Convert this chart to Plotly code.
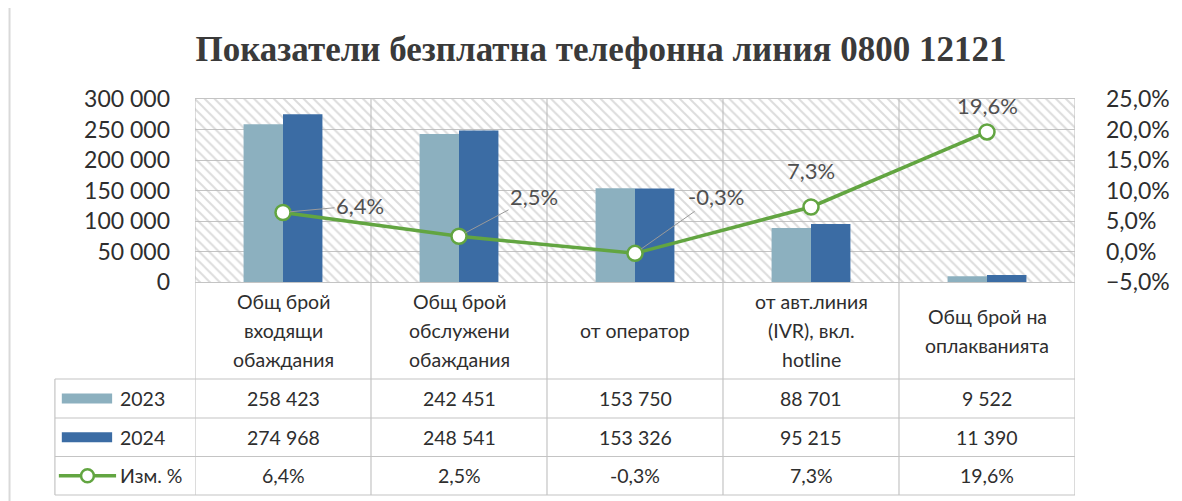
"""Combo chart: calls to the 0800 12121 free line, 2023 vs 2024, with data table."""

import plotly.graph_objects as go

# ---------------------------------------------------------------------------
# Data
# ---------------------------------------------------------------------------

categories = [
    "Общ брой<br>входящи<br>обаждания",
    "Общ брой<br>обслужени<br>обаждания",
    "от оператор",
    "от авт.линия<br>(IVR), вкл.<br>hotline",
    "Общ брой на<br>оплакванията",
]
calls_2023 = [258423, 242451, 153750, 88701, 9522]
calls_2024 = [274968, 248541, 153326, 95215, 11390]
change_pct = [0.064, 0.025, -0.003, 0.073, 0.196]

series_names = ["2023", "2024", "Изм. %"]

# ---------------------------------------------------------------------------
# Theme  (positions below are window pixels; the page body adds an 8px margin)
# ---------------------------------------------------------------------------

W, H = 1182, 501
BODY = 8
PLOT_L, PLOT_R, PLOT_T, PLOT_B = 195, 1087, 99, 282
ROW_LINES = [379, 418, 456.5, 495]
TABLE_LEFT = 53

Y_MAX = 300000
COLOR_2023 = "#8cb0bf"
COLOR_2024 = "#3b6ca4"
GREEN = "#62a541"
GRID = "#c4c4c4"
TEXT = "#2e2e2e"
LABEL_TEXT = "#505050"
FONT = "Lato, Carlito, sans-serif"


def px_x(px):
    return (px - PLOT_L) / (PLOT_R - PLOT_L)


def px_y(py):
    return (PLOT_B - py) / (PLOT_B - PLOT_T)


def fmt_int(v):
    return f"{v:,}".replace(",", " ")


def fmt_pct(v):
    return f"{v * 100:.1f}%".replace(".", ",")


fig = go.Figure()

# hatched plot background
fig.add_trace(go.Bar(
    x=categories, y=[Y_MAX] * len(categories), width=1,
    marker=dict(
        color="rgba(0,0,0,0)", line=dict(width=0),
        pattern=dict(shape="\\", fgcolor="#b9b9b9", bgcolor="rgba(0,0,0,0)",
                     size=7, solidity=0.28),
    ),
    hoverinfo="skip", showlegend=False,
))

fig.add_trace(go.Bar(
    x=categories, y=calls_2023, name=series_names[0],
    width=0.224, offset=-0.224, marker=dict(color=COLOR_2023, line=dict(width=0)),
))
fig.add_trace(go.Bar(
    x=categories, y=calls_2024, name=series_names[1],
    width=0.224, offset=0, marker=dict(color=COLOR_2024, line=dict(width=0)),
))
fig.add_trace(go.Scatter(
    x=categories, y=change_pct, name=series_names[2], yaxis="y2",
    mode="lines+markers",
    line=dict(color=GREEN, width=3.5),
    marker=dict(size=15, color="white", line=dict(color=GREEN, width=2.5)),
))

# ---------------------------------------------------------------------------
# Data labels for the line
# ---------------------------------------------------------------------------

label_offsets = [(77, -7), (75, -40), (81, -57), None, None]
label_lift = [0, 0, 0, 36, 26]
annotations = []
for i, (cat, val) in enumerate(zip(categories, change_pct)):
    off = label_offsets[i]
    if off:
        annotations.append(dict(
            x=cat, y=val, xref="x", yref="y2", text=fmt_pct(val),
            showarrow=True, ax=off[0], ay=off[1], arrowhead=0,
            arrowwidth=1, arrowcolor="#9a9a9a", standoff=7,
            font=dict(size=22, color=LABEL_TEXT, family=FONT),
        ))
    else:
        annotations.append(dict(
            x=cat, y=val, xref="x", yref="y2", text=fmt_pct(val),
            showarrow=False, yshift=label_lift[i],
            font=dict(size=22, color=LABEL_TEXT, family=FONT),
        ))

# ---------------------------------------------------------------------------
# Data table under the plot
# ---------------------------------------------------------------------------

header_mid = (PLOT_B + ROW_LINES[0]) / 2
line_step = 29
row_mids = [px_y((ROW_LINES[k] + ROW_LINES[k + 1]) / 2) for k in range(3)]

for cat in categories:
    lines = cat.split("<br>")
    first = header_mid - line_step * (len(lines) - 1) / 2
    for j, part in enumerate(lines):
        annotations.append(dict(
            x=cat, y=px_y(first + j * line_step), xref="x", yref="paper", text=part,
            showarrow=False, yanchor="middle",
            font=dict(size=19.5, color=TEXT, family=FONT),
        ))

table_rows = [
    [fmt_int(v) for v in calls_2023],
    [fmt_int(v) for v in calls_2024],
    [fmt_pct(v) for v in change_pct],
]
for r, row in enumerate(table_rows):
    annotations.append(dict(
        x=px_x(117), y=row_mids[r], xref="paper", yref="paper",
        text=series_names[r], showarrow=False, xanchor="left", yanchor="middle",
        font=dict(size=19.5, color=TEXT, family=FONT),
    ))
    for cat, txt in zip(categories, row):
        annotations.append(dict(
            x=cat, y=row_mids[r], xref="x", yref="paper", text=txt,
            showarrow=False, yanchor="middle",
            font=dict(size=19.5, color=TEXT, family=FONT),
        ))

shapes = []
# column dividers, running from the plot top through the table
for k in range(len(categories) + 1):
    shapes.append(dict(
        type="line", xref="x", yref="paper", x0=k - 0.5, x1=k - 0.5,
        y0=px_y(ROW_LINES[-1]), y1=1, line=dict(color=GRID, width=1.2), layer="below",
    ))
for yl in ROW_LINES:
    shapes.append(dict(
        type="line", xref="paper", yref="paper", x0=px_x(TABLE_LEFT), x1=1,
        y0=px_y(yl), y1=px_y(yl), line=dict(color=GRID, width=1.2), layer="below",
    ))
shapes.append(dict(
    type="line", xref="paper", yref="paper", x0=px_x(TABLE_LEFT), x1=px_x(TABLE_LEFT),
    y0=px_y(ROW_LINES[0]), y1=px_y(ROW_LINES[-1]), line=dict(color=GRID, width=1.2),
    layer="below",
))
# chart border on the far left
shapes.append(dict(
    type="line", xref="paper", yref="paper", x0=px_x(7), x1=px_x(7),
    y0=px_y(H), y1=px_y(BODY), line=dict(color="#d9d9d9", width=2), layer="below",
))

# legend keys inside the table
swatch_colors = [COLOR_2023, COLOR_2024]
for r, col in enumerate(swatch_colors):
    cy = (ROW_LINES[r] + ROW_LINES[r + 1]) / 2
    shapes.append(dict(
        type="rect", xref="paper", yref="paper",
        x0=px_x(60), x1=px_x(111), y0=px_y(cy - 5), y1=px_y(cy + 5),
        fillcolor=col, line=dict(width=0),
    ))
cy = (ROW_LINES[2] + ROW_LINES[3]) / 2
shapes.append(dict(
    type="line", xref="paper", yref="paper", x0=px_x(57), x1=px_x(115),
    y0=px_y(cy), y1=px_y(cy), line=dict(color=GREEN, width=3.5),
))
shapes.append(dict(
    type="circle", xref="paper", yref="paper",
    x0=px_x(79.5), x1=px_x(92.5), y0=px_y(cy - 6.5), y1=px_y(cy + 6.5),
    fillcolor="white", line=dict(color=GREEN, width=2.5),
))

# ---------------------------------------------------------------------------
# Layout
# ---------------------------------------------------------------------------

fig_w, fig_h = W - BODY, H - BODY
fig.update_layout(
    width=fig_w, height=fig_h,
    margin=dict(l=PLOT_L - BODY, r=W - PLOT_R, t=PLOT_T - BODY, b=H - PLOT_B, pad=0),
    paper_bgcolor="white", plot_bgcolor="rgba(0,0,0,0)",
    separators=", ",
    barmode="overlay",
    showlegend=False,
    font=dict(family=FONT, color=TEXT),
    title=dict(
        text="<b>Показатели безплатна телефонна линия 0800 12121</b>",
        x=(601 - BODY) / fig_w, xanchor="center", xref="container",
        y=1 - (49 - BODY) / fig_h, yanchor="middle", yref="container",
        font=dict(family="Liberation Serif, serif", size=35, color="#3a3a3a"),
    ),
    xaxis=dict(
        type="category", range=[-0.5, len(categories) - 0.5],
        showticklabels=False, showgrid=False, zeroline=False,
        showline=True, mirror=True, linecolor=GRID, linewidth=1.2,
    ),
    yaxis=dict(
        range=[0, Y_MAX], dtick=50000, tickformat=",d",
        showgrid=True, gridcolor=GRID, gridwidth=1.2, zeroline=False,
        tickfont=dict(size=23, color=TEXT), ticks="", ticklabelstandoff=24,
    ),
    yaxis2=dict(
        range=[-0.05, 0.25], dtick=0.05, tickformat=".1%",
        overlaying="y", side="right", showgrid=False, zeroline=False,
        tickfont=dict(size=23, color=TEXT), ticks="", ticklabelstandoff=30,
    ),
    annotations=annotations,
    shapes=shapes,
)

fig.write_html("out.html")
